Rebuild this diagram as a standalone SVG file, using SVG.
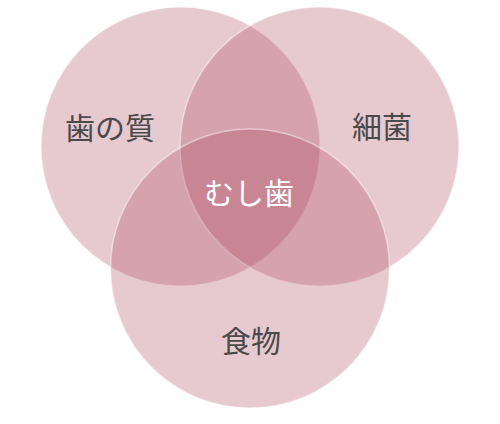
<svg xmlns="http://www.w3.org/2000/svg" width="500" height="424" viewBox="0 0 500 424">
  <style>
    .set { fill: #aa3e55; fill-opacity: 0.28; stroke: #ffffff; stroke-opacity: 0.45; stroke-width: 1.5; }
    .label { font-family: "Noto Sans CJK JP", "Noto Sans", sans-serif; font-size: 30px; text-anchor: middle; fill: #4a4a4a; }
    .center { fill: #ffffff; }
  </style>
  <rect width="500" height="424" fill="#ffffff"/>
  <g id="node-tooth">
    <circle class="set" cx="180.5" cy="146.5" r="139.5"/>
  </g>
  <g id="node-bacteria">
    <circle class="set" cx="319.5" cy="146.5" r="139.5"/>
  </g>
  <g id="node-food">
    <circle class="set" cx="250" cy="268.5" r="139.5"/>
  </g>
  <g id="connectors"></g>
  <g id="labels">
    <text class="label" x="110" y="138.5">歯の質</text>
    <text class="label" x="382" y="137.5">細菌</text>
    <text class="label" x="251" y="352">食物</text>
    <text class="label center" x="249" y="203.5">むし歯</text>
  </g>
</svg>
